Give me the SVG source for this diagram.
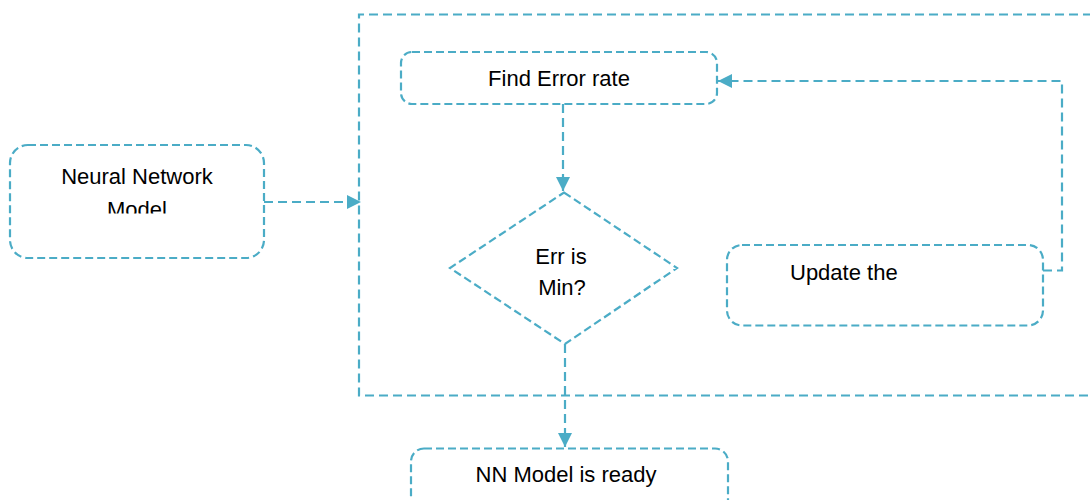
<svg xmlns="http://www.w3.org/2000/svg" width="1090" height="500" viewBox="0 0 1090 500">
<style>
.shape{fill:#fff;stroke:#4BACC6;stroke-width:2.2;stroke-dasharray:8 4}
.conn{fill:none;stroke:#4BACC6;stroke-width:2.2;stroke-dasharray:9 5}
text{font-family:"Liberation Sans",Arial,sans-serif;font-size:22px;fill:#000}
</style>
<defs>
<marker id="arr" viewBox="0 0 12 12" refX="12" refY="6" markerWidth="14" markerHeight="14" markerUnits="userSpaceOnUse" orient="auto">
<path d="M0,0 L12,6 L0,12 Z" fill="#4BACC6"/>
</marker>
<clipPath id="clipNN"><rect x="0" y="140" width="300" height="73.5"/></clipPath>
</defs>
<rect width="1090" height="500" fill="#fff"/>
<g id="container">
<path class="conn" d="M1092,14.5 H359 V395.5 H1092"/>
</g>
<g id="connectors">
<path class="conn" d="M264,202 H361" marker-end="url(#arr)"/>
<path class="conn" d="M563,104 V191" marker-end="url(#arr)"/>
<path class="conn" d="M565,344 V447" marker-end="url(#arr)"/>
<path class="conn" d="M1043,270.5 H1062 V81 H718" marker-end="url(#arr)"/>
</g>
<g id="nn-model">
<rect class="shape" x="10" y="145" width="254" height="113" rx="18"/>
<g clip-path="url(#clipNN)">
<text x="137" y="184" text-anchor="middle">Neural Network</text>
<text x="137" y="217" text-anchor="middle">Model</text>
</g>
</g>
<g id="find-error">
<rect class="shape" x="401" y="52" width="316" height="52" rx="11"/>
<text x="559" y="85.5" text-anchor="middle">Find Error rate</text>
</g>
<g id="decision">
<path class="shape" d="M564,192.5 L677,268 L565,344 L450,268 Z"/>
<text x="561" y="263.5" text-anchor="middle">Err is</text>
<text x="562" y="294.5" text-anchor="middle">Min?</text>
</g>
<g id="update">
<rect class="shape" x="727" y="245" width="316" height="80.5" rx="15"/>
<text x="790" y="280">Update the</text>
</g>
<g id="nn-ready">
<rect class="shape" x="411" y="448.5" width="317" height="70" rx="13"/>
<text x="566" y="481.5" text-anchor="middle">NN Model is ready</text>
</g>
</svg>
